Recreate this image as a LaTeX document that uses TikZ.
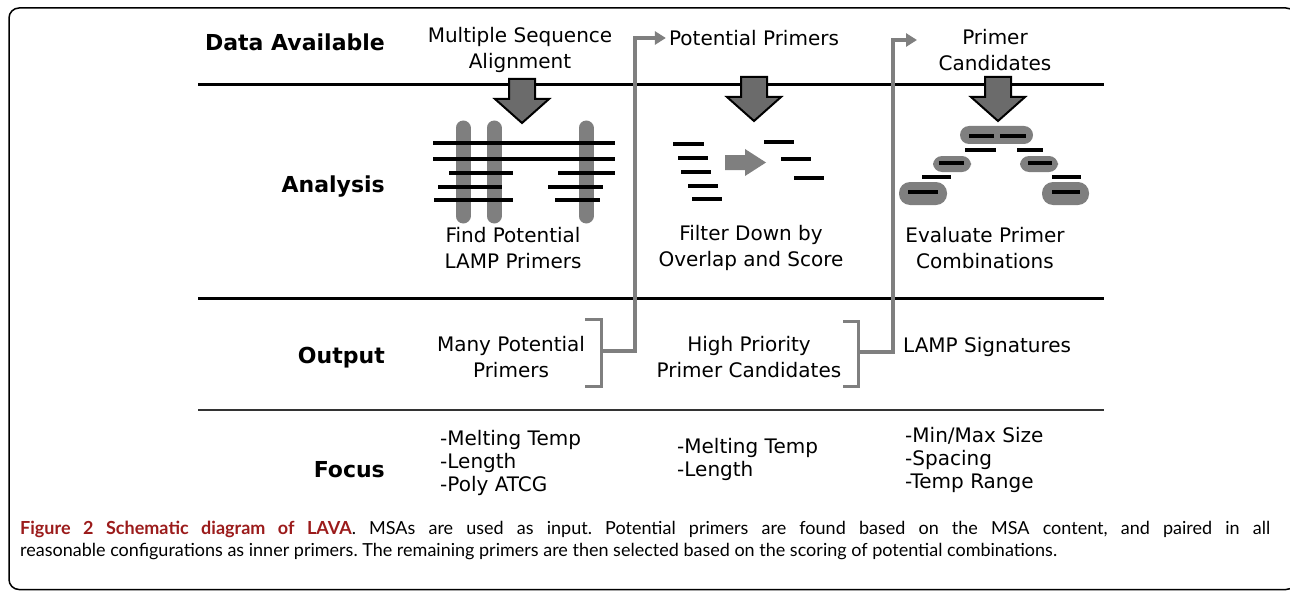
\documentclass[tikz,border=0pt]{standalone}
\usepackage{fontspec}
\setmainfont{DejaVu Sans}
\newfontfamily\capfont{Lato}
\usetikzlibrary{arrows.meta,positioning,calc}
\definecolor{gr}{HTML}{7F7F7F}
\definecolor{dgr}{HTML}{6B6B6B}
\definecolor{figred}{HTML}{9B1B1B}
\tikzset{
  lbl/.style={font=\fontsize{22}{26}\selectfont\bfseries,anchor=east,inner sep=0pt},
  txt/.style={font=\fontsize{20}{26}\selectfont,align=center,inner sep=3pt},
  lst/.style={font=\fontsize{20}{23}\selectfont,align=left,anchor=west,inner sep=0pt},
  rule/.style={line width=3pt,black},
  conn/.style={line width=3.5pt,draw=gr},
  ar/.style={conn,-{Triangle[length=11pt,width=13pt]}},
  brk/.style={line width=3pt,draw=gr},
  seq/.style={line width=4pt,black},
  bar/.style={line width=15pt,gr,line cap=round},
  pod/.style={fill=gr,rounded corners=9pt},
  bigar/.pic={\draw[line width=2pt,fill=dgr] (-13,0) -- (13,0) -- (13,20) -- (27,20) -- (0,44) -- (-27,20) -- (-13,20) -- cycle;},
}

\begin{document}
\begin{tikzpicture}[x=1pt,y=-1pt]
\useasboundingbox (0,0) rectangle (1290,591);
\draw[line width=1.5pt,rounded corners=10pt] (9,8) rectangle (1296,589.5);

% row heads and rules
\node[lbl] (hdata) at (385,42) {Data Available};
\node[lbl] (hana) at (385,187) {Analysis};
\node[lbl] (hout) at (385,358) {Output};
\node[lbl] (hfoc) at (385,470) {Focus};
\draw[rule] (198,85) -- (1104,85);
\draw[rule] (198,298) -- (1104,298);
\draw[line width=2pt,black!80] (198,410) -- (1104,410);

% data available
\node[txt] (msa) at (520,50) {Multiple Sequence\\Alignment};
\node[txt] (pp) at (754,38) {Potential Primers};
\node[txt] (pc) at (995,50) {Primer\\Candidates};
\coordinate (pcin) at (917,40);
\pic at (522,79) {bigar};
\pic at (754,77) {bigar};
\pic at (998,77) {bigar};

% analysis: find
\foreach \x in {463,494,586} \draw[bar] (\x,128) -- (\x,216);
\foreach \a/\b/\y in {433/615/143,433/615/159,449/513/173,558/615/173,438/502/187,548/603/187,434/513/200,555/600/200}
  \draw[seq] (\a,\y) -- (\b,\y);
% analysis: filter
\foreach \a/\b/\y in {673/704/144,678/708/158,681/711/172,688/718/186,692/722/199,764/794/142,781/811/159,794/824/178}
  \draw[seq] (\a,\y) -- (\b,\y);
\fill[gr] (725,155) -- (745,155) -- (745,149) -- (766,162.5) -- (745,176) -- (745,170) -- (725,170) -- cycle;
% analysis: evaluate
\fill[pod] (960,126) rectangle (1033,144);
\fill[pod] (933,156) rectangle (971,172);
\fill[pod] (1020,156) rectangle (1058,172);
\fill[pod,rounded corners=11pt] (899,182) rectangle (947,205);
\fill[pod,rounded corners=11pt] (1042,182) rectangle (1089,205);
\foreach \a/\b/\y in {969/994/136,1000/1026/136,939/964/163,1028/1052/163,908/938/192,1052/1080/192,965/996/150,1017/1043/150,922/951/177,1052/1081/177}
  \draw[seq] (\a,\y) -- (\b,\y);

\node[txt] (find) at (513,248) {Find Potential\\LAMP Primers};
\node[txt] (filt) at (751,248) {Filter Down by\\Overlap and Score};
\node[txt] (eval) at (985,248) {Evaluate Primer\\Combinations};

% output
\node[txt] (many) at (511,357) {Many Potential\\Primers};
\node[txt] (high) at (749,357) {High Priority\\Primer Candidates};
\node[txt,anchor=west] (sig) at (900,347) {LAMP Signatures};
\draw[brk] (585,319) -- (601,319) -- (601,386) -- (585,386);
\draw[brk] (843,321) -- (858,321) -- (858,386) -- (843,386);
\coordinate (b1) at (601,351);
\coordinate (b2) at (858,352);
\draw[ar] (b1) -- ++(34,0) |- (pp.west);
\draw[ar] (b2) -- ++(35,0) |- (pcin);

% focus
\node[lst] (f1) at (440,463) {-Melting Temp\\-Length\\-Poly ATCG};
\node[lst] (f2) at (677,459.5) {-Melting Temp\\-Length};
\node[lst] (f3) at (905,460) {-Min/Max Size\\-Spacing\\-Temp Range};

% caption
\node[anchor=north west,text width=1250pt,inner sep=0pt,align=justify,font=\capfont\fontsize{18}{22}\selectfont\frenchspacing] (cap) at (20,521)
  {{\color{figred}\bfseries Figure 2 Schematic diagram of LAVA}. MSAs are used as input. Potential primers are found based on the MSA content, and paired in all\linebreak reasonable configurations as inner primers. The remaining primers are then selected based on the scoring of potential combinations.};
\end{tikzpicture}
\end{document}
